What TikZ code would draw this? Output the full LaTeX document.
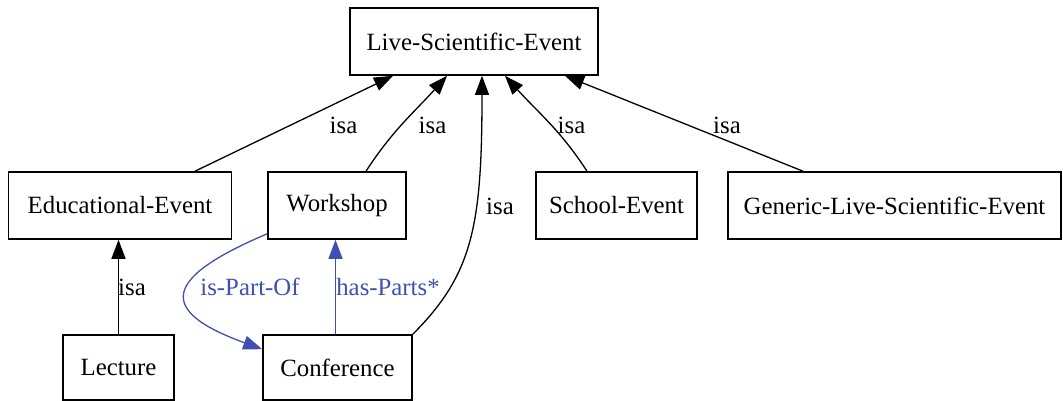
\documentclass[tikz,border=0pt]{standalone}
\usepackage{fontspec}
\setmainfont{Liberation Serif}
\usepackage{tikz}
\usetikzlibrary{arrows.meta, positioning, calc}
\definecolor{relblue}{RGB}{64,80,176}
\tikzset{
	cls/.style={draw, rectangle, line width=1.6pt, minimum height=67pt, inner sep=0pt, font=\fontsize{24.8}{29}\selectfont},
	lbl/.style={inner sep=0pt, font=\fontsize{24.8}{29}\selectfont},
	isa/.style={draw, line width=1.3pt, -{Triangle[length=19pt, width=14pt]}},
	rel/.style={isa, draw=relblue},
	rlbl/.style={lbl, text=relblue}
}
\begin{document}
\begin{tikzpicture}[x=1pt, y=1pt]
	\useasboundingbox[fill=white] (0,0) rectangle (1063,-401);
	% Classes
	\node[cls, minimum width=248pt] (LSE) at (474,-41.5) {Live-Scientific-Event};
	\node[cls, minimum width=223pt] (EE) at (120,-205.5) {Educational-Event};
	\node[cls, minimum width=138pt] (WS) at (337,-205.5) {Workshop};
	\node[cls, minimum width=161pt] (SE) at (616.5,-205.5) {School-Event};
	\node[cls, minimum width=333pt] (GLSE) at (894.5,-205.5) {Generic-Live-Scientific-Event};
	\node[cls, minimum width=111pt, minimum height=65pt] (LEC) at (118.5,-367.5) {Lecture};
	\node[cls, minimum width=149pt, minimum height=65pt] (CONF) at (337.5,-367.5) {Conference};
	
	% isa links
	\draw[isa] ([xshift=75pt]EE.north) -- ([xshift=-81pt]LSE.south);
	\draw[isa] ([xshift=29pt]WS.north) to[out=57, in=228] ([xshift=-27pt]LSE.south);
	\draw[isa] (CONF.north east) .. controls +(60,60) and +(0,-150) .. ([xshift=8pt]LSE.south);
	\draw[isa] ([xshift=-29.5pt]SE.north) to[out=123, in=-48] ([xshift=31pt]LSE.south);
	\draw[isa] ([xshift=-91.5pt]GLSE.north) -- ([xshift=91pt]LSE.south);
	\draw[isa] (LEC.north) -- (LEC.north |- EE.south);
	\node[lbl] (isa-EE) at (343.5,-125) {isa};
	\node[lbl] (isa-WS) at (432.5,-125) {isa};
	\node[lbl] (isa-SE) at (571.5,-125) {isa};
	\node[lbl] (isa-GLSE) at (727,-125) {isa};
	\node[lbl] (isa-CONF) at (500,-206) {isa};
	\node[lbl] (isa-LEC) at (132,-287) {isa};
	
	% part links
	\draw[rel] ([xshift=-2pt]CONF.north) -- ([xshift=-2pt]CONF.north |- WS.south);
	\draw[rel] ([yshift=6pt]WS.south west) to[out=203, in=160, looseness=2.5] ([yshift=-15pt]CONF.north west);
	\node[rlbl] (partof) at (250,-287) {is-Part-Of};
	\node[rlbl] (hasparts) at (388,-287) {has-Parts*};
\end{tikzpicture}
\end{document}
